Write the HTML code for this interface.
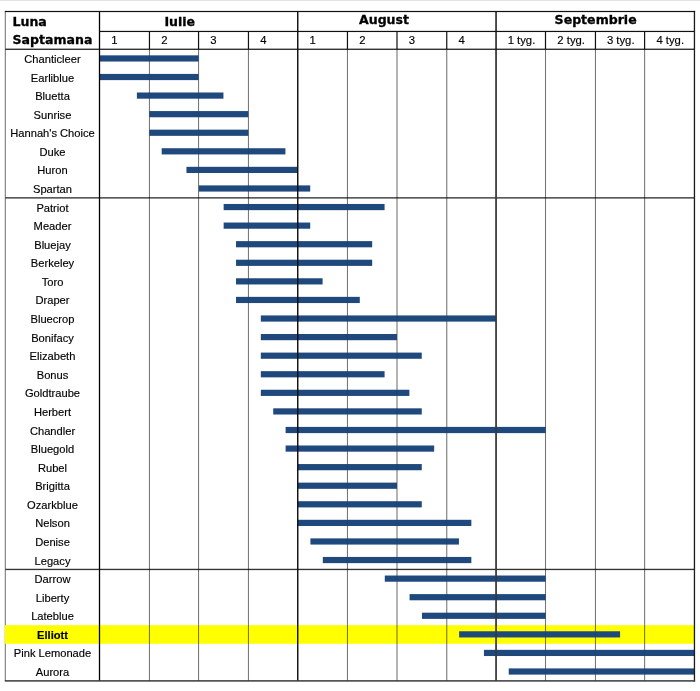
<!DOCTYPE html>
<html><head><meta charset="utf-8"><title>Luna Saptamana</title>
<style>
html,body{margin:0;padding:0;background:#fff;}
body{width:700px;height:691px;position:relative;overflow:hidden;font-family:"Liberation Sans",sans-serif;color:#000;}
svg{position:absolute;left:0;top:0;}
.nm{position:absolute;left:6px;width:93px;text-align:center;font-size:11.15px;-webkit-text-stroke:0.15px #000;line-height:18px;height:18px;white-space:nowrap;color:#000;}
.hd{position:absolute;font-family:"DejaVu Sans","Liberation Sans",sans-serif;font-weight:bold;font-size:12.55px;line-height:16px;white-space:nowrap;color:#000;-webkit-text-stroke:0.3px #000;}
.wn{position:absolute;font-size:11.3px;-webkit-text-stroke:0.15px #000;line-height:16px;white-space:nowrap;color:#000;}
</style></head><body>
<svg width="700" height="691" viewBox="0 0 700 691">
<rect x="0" y="0" width="700" height="1" fill="#e4e4e4"/>
<rect x="4.80" y="11.50" width="1.00" height="669.40" fill="#6e6e6e"/>
<rect x="4.80" y="625.17" width="690.05" height="18.58" fill="#ffff00"/>
<rect x="5.30" y="197.20" width="689.15" height="1.35" fill="#333"/>
<rect x="5.30" y="568.76" width="689.15" height="1.35" fill="#333"/>
<rect x="148.92" y="49.25" width="1.05" height="631.65" fill="#000" fill-opacity="0.5"/>
<rect x="198.03" y="49.25" width="1.05" height="631.65" fill="#000" fill-opacity="0.5"/>
<rect x="247.92" y="49.25" width="1.05" height="631.65" fill="#000" fill-opacity="0.5"/>
<rect x="346.93" y="49.25" width="1.05" height="631.65" fill="#000" fill-opacity="0.5"/>
<rect x="396.48" y="49.25" width="1.05" height="631.65" fill="#000" fill-opacity="0.5"/>
<rect x="446.23" y="49.25" width="1.05" height="631.65" fill="#000" fill-opacity="0.5"/>
<rect x="544.98" y="49.25" width="1.05" height="631.65" fill="#000" fill-opacity="0.5"/>
<rect x="594.93" y="49.25" width="1.05" height="631.65" fill="#000" fill-opacity="0.5"/>
<rect x="644.08" y="49.25" width="1.05" height="631.65" fill="#000" fill-opacity="0.5"/>
<g fill="#1f497d">
<rect x="99.70" y="55.34" width="98.96" height="6.2"/>
<rect x="99.70" y="73.92" width="98.96" height="6.2"/>
<rect x="136.88" y="92.49" width="86.56" height="6.2"/>
<rect x="149.28" y="111.07" width="98.96" height="6.2"/>
<rect x="149.28" y="129.65" width="98.96" height="6.2"/>
<rect x="161.67" y="148.23" width="123.75" height="6.2"/>
<rect x="186.46" y="166.81" width="111.35" height="6.2"/>
<rect x="198.86" y="185.38" width="111.35" height="6.2"/>
<rect x="223.65" y="203.96" width="160.93" height="6.2"/>
<rect x="223.65" y="222.54" width="86.56" height="6.2"/>
<rect x="236.04" y="241.12" width="136.14" height="6.2"/>
<rect x="236.04" y="259.70" width="136.14" height="6.2"/>
<rect x="236.04" y="278.27" width="86.56" height="6.2"/>
<rect x="236.04" y="296.85" width="123.75" height="6.2"/>
<rect x="260.83" y="315.43" width="235.30" height="6.2"/>
<rect x="260.83" y="334.01" width="136.14" height="6.2"/>
<rect x="260.83" y="352.59" width="160.93" height="6.2"/>
<rect x="260.83" y="371.16" width="123.75" height="6.2"/>
<rect x="260.83" y="389.74" width="148.54" height="6.2"/>
<rect x="273.23" y="408.32" width="148.54" height="6.2"/>
<rect x="285.62" y="426.90" width="260.09" height="6.2"/>
<rect x="285.62" y="445.48" width="148.54" height="6.2"/>
<rect x="298.02" y="464.05" width="123.75" height="6.2"/>
<rect x="298.02" y="482.63" width="98.96" height="6.2"/>
<rect x="298.02" y="501.21" width="123.75" height="6.2"/>
<rect x="298.02" y="519.79" width="173.33" height="6.2"/>
<rect x="310.41" y="538.37" width="148.54" height="6.2"/>
<rect x="322.81" y="556.94" width="148.54" height="6.2"/>
<rect x="384.78" y="575.52" width="160.93" height="6.2"/>
<rect x="409.57" y="594.10" width="136.14" height="6.2"/>
<rect x="421.96" y="612.68" width="123.75" height="6.2"/>
<rect x="459.15" y="631.26" width="160.93" height="6.2"/>
<rect x="483.94" y="649.83" width="210.51" height="6.2"/>
<rect x="508.73" y="668.41" width="185.72" height="6.2"/>
</g>
<rect x="148.85" y="31.45" width="1.20" height="17.80" fill="#111"/>
<rect x="148.95" y="49.25" width="1.00" height="631.65" fill="#000" fill-opacity="0.08"/>
<rect x="197.95" y="31.45" width="1.20" height="17.80" fill="#111"/>
<rect x="198.05" y="49.25" width="1.00" height="631.65" fill="#000" fill-opacity="0.08"/>
<rect x="247.85" y="31.45" width="1.20" height="17.80" fill="#111"/>
<rect x="247.95" y="49.25" width="1.00" height="631.65" fill="#000" fill-opacity="0.08"/>
<rect x="346.85" y="31.45" width="1.20" height="17.80" fill="#111"/>
<rect x="346.95" y="49.25" width="1.00" height="631.65" fill="#000" fill-opacity="0.08"/>
<rect x="396.40" y="31.45" width="1.20" height="17.80" fill="#111"/>
<rect x="396.50" y="49.25" width="1.00" height="631.65" fill="#000" fill-opacity="0.08"/>
<rect x="446.15" y="31.45" width="1.20" height="17.80" fill="#111"/>
<rect x="446.25" y="49.25" width="1.00" height="631.65" fill="#000" fill-opacity="0.08"/>
<rect x="544.90" y="31.45" width="1.20" height="17.80" fill="#111"/>
<rect x="545.00" y="49.25" width="1.00" height="631.65" fill="#000" fill-opacity="0.08"/>
<rect x="594.85" y="31.45" width="1.20" height="17.80" fill="#111"/>
<rect x="594.95" y="49.25" width="1.00" height="631.65" fill="#000" fill-opacity="0.08"/>
<rect x="644.00" y="31.45" width="1.20" height="17.80" fill="#111"/>
<rect x="644.10" y="49.25" width="1.00" height="631.65" fill="#000" fill-opacity="0.08"/>
<rect x="98.85" y="11.50" width="1.30" height="669.40" fill="#000"/>
<rect x="297.05" y="11.50" width="1.40" height="669.40" fill="#0a0a0a"/>
<rect x="495.18" y="11.50" width="1.75" height="669.40" fill="#383838"/>
<rect x="693.80" y="10.90" width="1.30" height="670.70" fill="#1c1c1c"/>
<rect x="4.80" y="10.90" width="690.30" height="1.20" fill="#111"/>
<rect x="99.50" y="30.85" width="594.95" height="1.20" fill="#111"/>
<rect x="5.30" y="48.65" width="689.15" height="1.20" fill="#111"/>
<rect x="4.80" y="680.15" width="690.30" height="1.50" fill="#3a3a3a"/>
</svg>
<div class="hd" style="left:12.5px;top:14.3px">Luna</div>
<div class="hd" style="left:12.5px;top:32.1px">Saptamana</div>
<div class="hd" style="left:164.4px;top:14.3px">Iulie</div>
<div class="hd" style="left:359px;top:12.2px">August</div>
<div class="hd" style="left:554.6px;top:12.2px">Septembrie</div>
<div class="wn" style="left:111.30px;top:32.35px">1</div>
<div class="wn" style="left:161.25px;top:32.35px">2</div>
<div class="wn" style="left:210.35px;top:32.35px">3</div>
<div class="wn" style="left:260.25px;top:32.35px">4</div>
<div class="wn" style="left:309.55px;top:32.35px">1</div>
<div class="wn" style="left:359.25px;top:32.35px">2</div>
<div class="wn" style="left:408.80px;top:32.35px">3</div>
<div class="wn" style="left:458.55px;top:32.35px">4</div>
<div class="wn" style="left:496.75px;width:49.45px;text-align:center;top:32.35px">1 tyg.</div>
<div class="wn" style="left:546.20px;width:49.95px;text-align:center;top:32.35px">2 tyg.</div>
<div class="wn" style="left:596.15px;width:49.15px;text-align:center;top:32.35px">3 tyg.</div>
<div class="wn" style="left:645.30px;width:49.85px;text-align:center;top:32.35px">4 tyg.</div>
<div class="nm" style="top:49.94px;">Chanticleer</div>
<div class="nm" style="top:68.52px;">Earliblue</div>
<div class="nm" style="top:87.09px;">Bluetta</div>
<div class="nm" style="top:105.67px;">Sunrise</div>
<div class="nm" style="top:124.25px;">Hannah's Choice</div>
<div class="nm" style="top:142.83px;">Duke</div>
<div class="nm" style="top:161.41px;">Huron</div>
<div class="nm" style="top:179.98px;">Spartan</div>
<div class="nm" style="top:198.56px;">Patriot</div>
<div class="nm" style="top:217.14px;">Meader</div>
<div class="nm" style="top:235.72px;">Bluejay</div>
<div class="nm" style="top:254.30px;">Berkeley</div>
<div class="nm" style="top:272.87px;">Toro</div>
<div class="nm" style="top:291.45px;">Draper</div>
<div class="nm" style="top:310.03px;">Bluecrop</div>
<div class="nm" style="top:328.61px;">Bonifacy</div>
<div class="nm" style="top:347.19px;">Elizabeth</div>
<div class="nm" style="top:365.76px;">Bonus</div>
<div class="nm" style="top:384.34px;">Goldtraube</div>
<div class="nm" style="top:402.92px;">Herbert</div>
<div class="nm" style="top:421.50px;">Chandler</div>
<div class="nm" style="top:440.08px;">Bluegold</div>
<div class="nm" style="top:458.65px;">Rubel</div>
<div class="nm" style="top:477.23px;">Brigitta</div>
<div class="nm" style="top:495.81px;">Ozarkblue</div>
<div class="nm" style="top:514.39px;">Nelson</div>
<div class="nm" style="top:532.97px;">Denise</div>
<div class="nm" style="top:551.54px;">Legacy</div>
<div class="nm" style="top:570.12px;">Darrow</div>
<div class="nm" style="top:588.70px;">Liberty</div>
<div class="nm" style="top:607.28px;">Lateblue</div>
<div class="nm" style="top:625.86px;font-weight:bold;">Elliott</div>
<div class="nm" style="top:644.43px;">Pink Lemonade</div>
<div class="nm" style="top:663.01px;">Aurora</div>
</body></html>
